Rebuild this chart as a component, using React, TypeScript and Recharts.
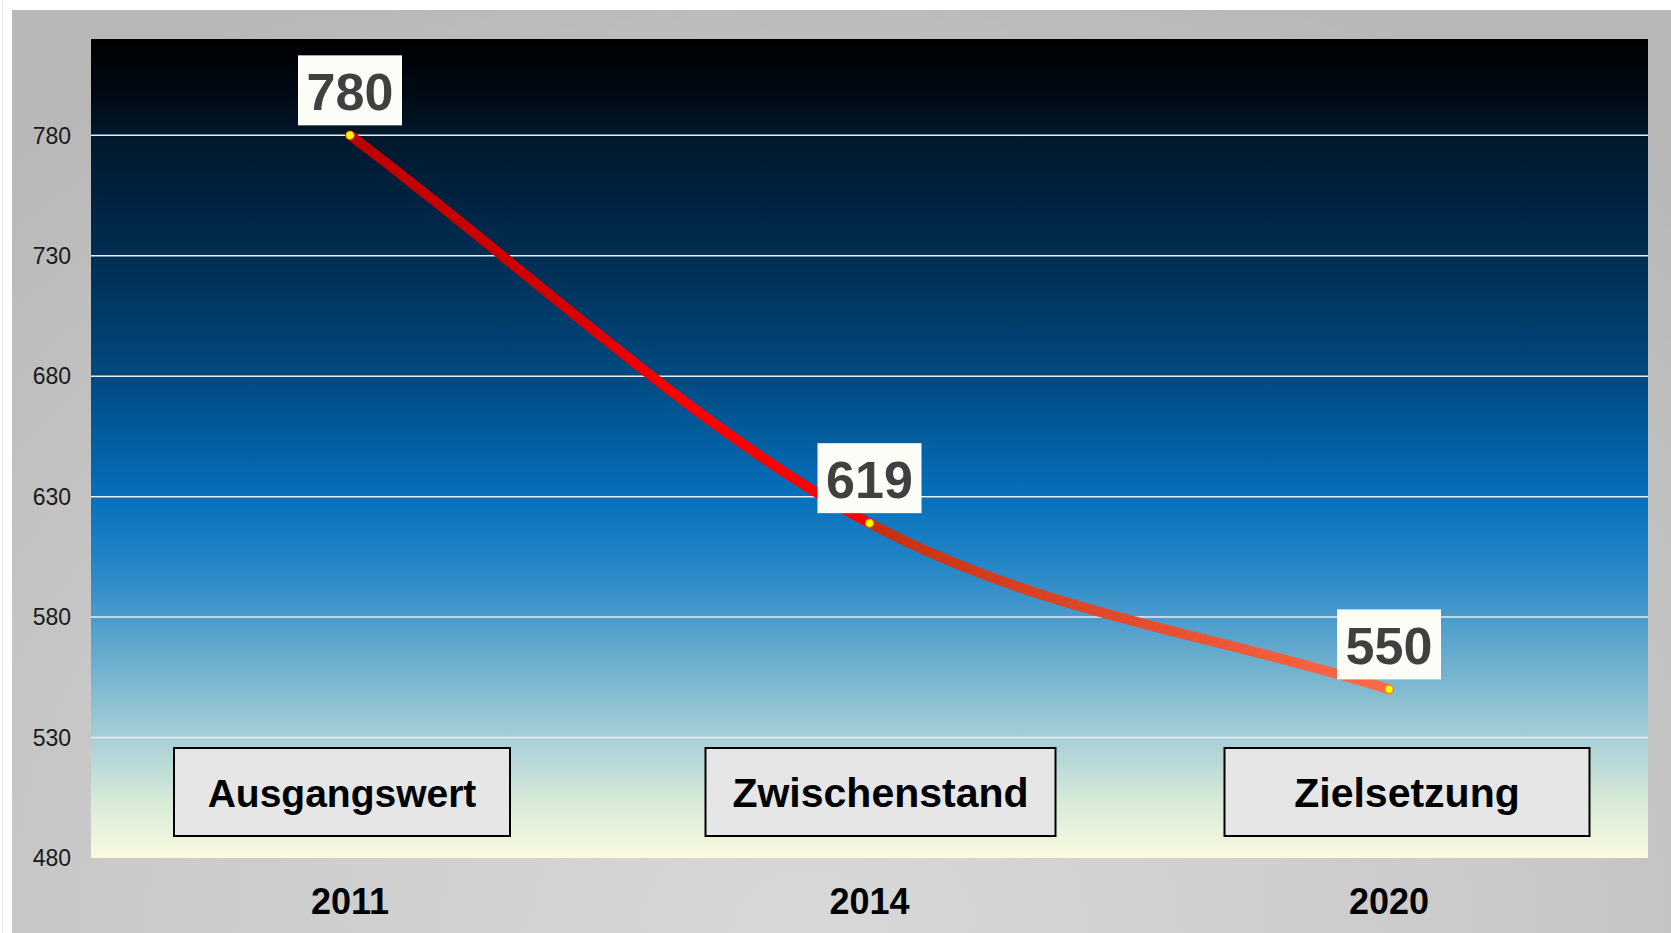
import { LineChart, Line, XAxis, YAxis, CartesianGrid, LabelList } from "recharts";

const years = ["2011", "2014", "2020"];
const values = [780, 619, 550];
const phases = ["Ausgangswert", "Zwischenstand", "Zielsetzung"];
const yTicks = [480, 530, 580, 630, 680, 730, 780];
const gridValues = [530, 580, 630, 680, 730, 780];

const data = years.map((year, i) => ({ year, value: values[i], phase: phases[i] }));

const FONT = "'Liberation Sans', Arial, sans-serif";

// annotation box placement relative to each year tick
const boxShift = [-8, 11, 18];
const boxWidth = [336, 350, 365];
const boxFont = [39, 41, 41];

// Excel-like smoothing: Catmull-Rom tangents inside, chord slope at the ends
const smoothCurve = (context: any) => {
  let xs: number[] = [];
  let ys: number[] = [];
  return {
    areaStart() {},
    areaEnd() {},
    lineStart() {
      xs = [];
      ys = [];
    },
    point(x: number, y: number) {
      xs.push(+x);
      ys.push(+y);
    },
    lineEnd() {
      const n = xs.length;
      if (!n) return;
      context.moveTo(xs[0], ys[0]);
      if (n === 1) return;
      const t = xs.map((_, i) => {
        if (i === 0) return (ys[1] - ys[0]) / (xs[1] - xs[0]);
        if (i === n - 1) return (ys[n - 1] - ys[n - 2]) / (xs[n - 1] - xs[n - 2]);
        return (ys[i + 1] - ys[i - 1]) / (xs[i + 1] - xs[i - 1]);
      });
      for (let i = 0; i < n - 1; i++) {
        const h = (xs[i + 1] - xs[i]) / 3;
        context.bezierCurveTo(
          xs[i] + h,
          ys[i] + t[i] * h,
          xs[i + 1] - h,
          ys[i + 1] - t[i + 1] * h,
          xs[i + 1],
          ys[i + 1]
        );
      }
    },
  };
};

function YearTick({ x, y, payload }: any) {
  const i = payload.index;
  const w = boxWidth[i];
  const cx = x + boxShift[i];
  return (
    <g>
      <rect x={cx - w / 2} y={y - 110} width={w} height={88} fill="#e6e6e6" stroke="#000" strokeWidth={2} />
      <text x={cx} y={y - 51} textAnchor="middle" fontSize={boxFont[i]} fontWeight="bold" fill="#000" fontFamily={FONT}>
        {phases[i]}
      </text>
      <text x={x} y={y + 56} textAnchor="middle" fontSize={36} fontWeight="bold" fill="#000" fontFamily={FONT}>
        {payload.value}
      </text>
    </g>
  );
}

function ValueLabel({ x, y, value }: any) {
  return (
    <g>
      <rect x={x - 52} y={y - 80} width={104} height={70} fill="#fdfdf7" />
      <text x={x} y={y - 25} textAnchor="middle" fontSize={52} fontWeight="bold" fill="#404040" fontFamily={FONT}>
        {value}
      </text>
    </g>
  );
}

export default function App() {
  return (
    <div style={{ position: "absolute", left: 0, top: 0, width: 1671, height: 933, background: "#fff", overflow: "hidden" }}>
      <div style={{ position: "absolute", left: 2, top: 0, width: 1, height: 933, background: "#e4e4e4" }} />
      <div
        style={{
          position: "absolute",
          left: 12,
          top: 10,
          width: 1659,
          height: 923,
          background: "radial-gradient(ellipse 75% 110% at 48% 100%, #d8d8d8 0%, #cacaca 55%, #b8b8b8 100%)",
        }}
      />
      <div style={{ position: "absolute", left: 0, top: 0 }}>
        <LineChart width={1671} height={933} data={data} margin={{ top: 39, right: 23, bottom: 0, left: 31 }}>
          <defs>
            <linearGradient id="plotBg" x1="0" y1="0" x2="0" y2="1">
              <stop offset="0" stopColor="#000000" />
              <stop offset="0.074" stopColor="#000b16" />
              <stop offset="0.118" stopColor="#00182c" />
              <stop offset="0.265" stopColor="#002d52" />
              <stop offset="0.413" stopColor="#004a80" />
              <stop offset="0.559" stopColor="#0670bd" />
              <stop offset="0.636" stopColor="#2284c6" />
              <stop offset="0.706" stopColor="#4a9bcb" />
              <stop offset="0.783" stopColor="#7ab6cf" />
              <stop offset="0.853" stopColor="#a6cfd6" />
              <stop offset="0.929" stopColor="#d6e9d8" />
              <stop offset="1" stopColor="#fafadf" />
            </linearGradient>
            <linearGradient id="lineColor" x1="0" y1="0" x2="1" y2="0">
              <stop offset="0" stopColor="#bc0000" />
              <stop offset="0.2" stopColor="#d40000" />
              <stop offset="0.32" stopColor="#ff0000" />
              <stop offset="0.5" stopColor="#ff0000" />
              <stop offset="0.5" stopColor="#c62e10" />
              <stop offset="0.75" stopColor="#e24c2c" />
              <stop offset="1" stopColor="#ff6a48" />
            </linearGradient>
          </defs>
          <CartesianGrid
            vertical={false}
            horizontalValues={gridValues}
            stroke="#e8eef4"
            strokeWidth={1.5}
            fill="url(#plotBg)"
            fillOpacity={1}
          />
          <XAxis
            dataKey="year"
            axisLine={false}
            tickLine={false}
            tickSize={0}
            tickMargin={0}
            height={75}
            padding={{ left: 259, right: 259 }}
            tick={<YearTick />}
            interval={0}
          />
          <YAxis
            domain={[480, 820]}
            ticks={yTicks}
            width={60}
            axisLine={false}
            tickLine={false}
            tickSize={0}
            tickMargin={20}
            tick={{ fontSize: 23, fill: "#1a1a1a", fontFamily: FONT }}
          />
          <Line
            type={smoothCurve as any}
            dataKey="value"
            stroke="url(#lineColor)"
            strokeWidth={10}
            strokeLinecap="round"
            dot={{ r: 4, fill: "#ffff00", stroke: "#f0a000", strokeWidth: 1 }}
            activeDot={false}
            isAnimationActive={false}
          >
            <LabelList dataKey="value" content={<ValueLabel />} />
          </Line>
        </LineChart>
      </div>
    </div>
  );
}
